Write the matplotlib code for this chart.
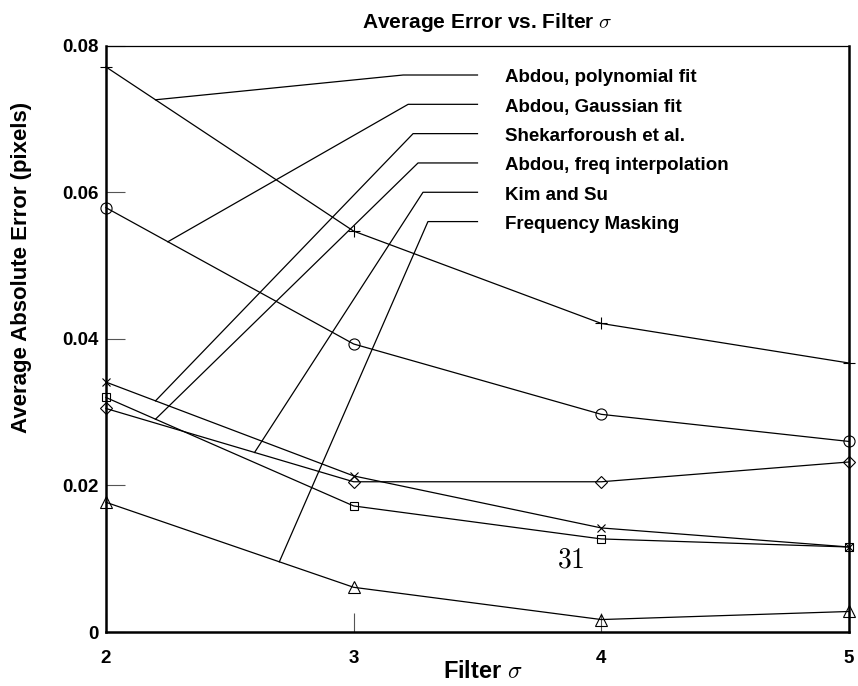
import matplotlib.pyplot as plt
import numpy as np

plt.rcParams['font.family'] = ['Liberation Sans', 'DejaVu Sans']
plt.rcParams['mathtext.fontset'] = 'cm'

sigma = [2, 3, 4, 5]
poly_fit = [0.0771, 0.0547, 0.0421, 0.0367]
gauss_fit = [0.0579, 0.0393, 0.0297, 0.0260]
shekar = [0.0341, 0.0213, 0.0142, 0.0116]
freq_interp = [0.0320, 0.0172, 0.0127, 0.0116]
kim_su = [0.0305, 0.0205, 0.0205, 0.0232]
freq_mask = [0.0177, 0.0061, 0.0017, 0.0028]

labels = ["Abdou, polynomial fit", "Abdou, Gaussian fit", "Shekarforoush et al.",
          "Abdou, freq interpolation", "Kim and Su", "Frequency Masking"]
series = [poly_fit, gauss_fit, shekar, freq_interp, kim_su, freq_mask]
markers = ['+', 'o', 'x', 's', 'D', '^']
msizes = [9, 8, 6, 6, 6, 8]

# where each leader line touches its curve, and where its label sits
anchor_x = [2.2, 2.25, 2.2, 2.2, 2.6, 2.7]
label_y = [0.076, 0.072, 0.068, 0.064, 0.060, 0.056]
bend_x = [3.2, 3.22, 3.24, 3.26, 3.28, 3.3]

fig = plt.figure(figsize=(8.58, 6.86), dpi=100)
ax = fig.add_axes([0.1235, 0.0787, 0.866, 0.8547])

for ys, m, ms in zip(series, markers, msizes):
    ax.plot(sigma, ys, color='black', lw=0.9, marker=m, markersize=ms,
            markerfacecolor='none', markeredgecolor='black', markeredgewidth=0.8,
            clip_on=False)

for ys, lab, axx, ly, bx in zip(series, labels, anchor_x, label_y, bend_x):
    ay = np.interp(axx, sigma, ys)
    ax.plot([axx, bx, 3.5], [ay, ly, ly], color='black', lw=0.9)
    ax.text(3.61, ly - 0.0004, lab, fontsize=13.5, fontweight='bold', va='center', ha='left')

ax.text(3.875, 0.0098, '$31$', fontsize=20, ha='center', va='center')

ax.set_xlim(2, 5)
ax.set_ylim(0, 0.08)
ax.set_xticks([2, 3, 4, 5])
ax.set_xticklabels(['2', '3', '4', '5'])
ax.set_yticks([0, 0.02, 0.04, 0.06, 0.08])
ax.set_yticklabels(['0', '0.02', '0.04', '0.06', '0.08'])
ax.tick_params(direction='in', length=14, width=0.8, color='#555555', pad=5)
ax.tick_params(axis='y', labelsize=13.5)
ax.tick_params(axis='x', labelsize=13.5, pad=13)
for t in ax.get_xticklabels() + ax.get_yticklabels():
    t.set_fontweight('bold')
ax.spines['left'].set_linewidth(1.8)
ax.spines['bottom'].set_linewidth(1.8)
ax.spines['right'].set_linewidth(1.8)
ax.spines['top'].set_linewidth(0.9)

ax.text(0.513, 1.039, r'Average Error vs. Filter $\sigma$', fontsize=15, fontweight='bold',
        ha='center', va='center', transform=ax.transAxes)
ax.set_xlabel(r'Filter $\sigma$', fontsize=17, fontweight='bold', va='top')
ax.xaxis.set_label_coords(0.507, -0.048)
ax.set_ylabel('Average Absolute Error (pixels)', fontsize=16, fontweight='bold',
              va='center', ha='center')
ax.yaxis.set_label_coords(-0.114, 0.621)

fig.savefig('out.png', dpi=100)
